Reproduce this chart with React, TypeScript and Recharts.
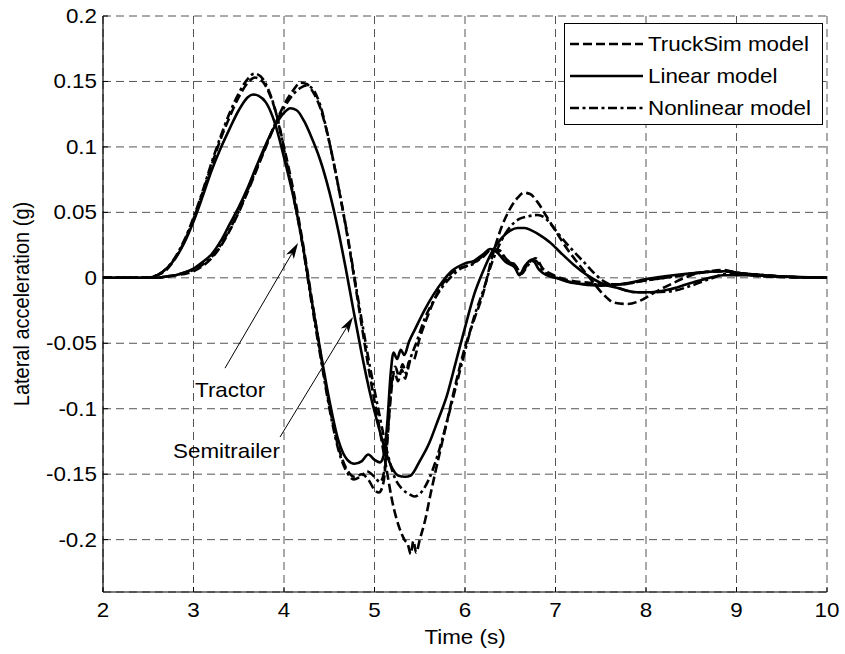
import React from 'react';
import {
  LineChart,
  Line,
  XAxis,
  YAxis,
  CartesianGrid,
  Legend,
  ReferenceLine,
  ReferenceDot,
} from 'recharts';

// Axis ticks
const timeTicks = [2, 3, 4, 5, 6, 7, 8, 9, 10];
const accelTicks = [-0.2, -0.15, -0.1, -0.05, 0, 0.05, 0.1, 0.15, 0.2];
const accelTickLabels = ['-0.2', '-0.15', '-0.1', '-0.05', '0', '0.05', '0.1', '0.15', '0.2'];

// Lateral acceleration (g) vs time (s), as [t, a] pairs
const truckSimTractor: [number, number][] = [
  [2.0, 0], [2.5, 0], [2.6, 0.002], [2.7, 0.006], [2.8, 0.015], [2.9, 0.028], [3.0, 0.045], [3.1, 0.065],
  [3.2, 0.086], [3.3, 0.106], [3.4, 0.123], [3.5, 0.138], [3.6, 0.149], [3.68, 0.153], [3.75, 0.151],
  [3.83, 0.142], [3.92, 0.124], [4.0, 0.1], [4.1, 0.068], [4.2, 0.03], [4.3, -0.013], [4.4, -0.056],
  [4.5, -0.097], [4.6, -0.129], [4.7, -0.147], [4.78, -0.152], [4.86, -0.15], [4.94, -0.155], [5.0, -0.162],
  [5.05, -0.164], [5.1, -0.156], [5.14, -0.126], [5.18, -0.09], [5.22, -0.072], [5.26, -0.079], [5.3, -0.07],
  [5.34, -0.077], [5.38, -0.064], [5.43, -0.063], [5.5, -0.046], [5.6, -0.027], [5.7, -0.011], [5.8, 0],
  [5.9, 0.006], [6.05, 0.01], [6.2, 0.016], [6.3, 0.022], [6.38, 0.021], [6.46, 0.014], [6.55, 0.01],
  [6.62, 0.004], [6.7, 0.011], [6.78, 0.015], [6.86, 0.007], [6.95, 0.003], [7.1, -0.001], [7.4, -0.004],
  [7.7, -0.005], [8.0, -0.002], [8.3, 0.001], [8.6, 0.004], [8.85, 0.005], [9.1, 0.003], [9.5, 0.001], [10, 0],
];

const linearTractor: [number, number][] = [
  [2.0, 0], [2.5, 0], [2.6, 0.002], [2.7, 0.007], [2.8, 0.015], [2.9, 0.027], [3.0, 0.043], [3.1, 0.062],
  [3.2, 0.082], [3.3, 0.099], [3.4, 0.114], [3.5, 0.128], [3.6, 0.138], [3.66, 0.14], [3.72, 0.139],
  [3.8, 0.134], [3.9, 0.118], [4.0, 0.092], [4.1, 0.063], [4.2, 0.028], [4.3, -0.015], [4.4, -0.055],
  [4.5, -0.093], [4.6, -0.124], [4.7, -0.139], [4.78, -0.142], [4.86, -0.14], [4.93, -0.135], [5.0, -0.139],
  [5.06, -0.141], [5.1, -0.136], [5.14, -0.112], [5.18, -0.072], [5.21, -0.057], [5.25, -0.062],
  [5.29, -0.055], [5.33, -0.059], [5.38, -0.049], [5.45, -0.039], [5.55, -0.025], [5.65, -0.013],
  [5.75, -0.003], [5.85, 0.005], [6.0, 0.011], [6.1, 0.013], [6.2, 0.018], [6.28, 0.022], [6.36, 0.019],
  [6.45, 0.012], [6.55, 0.008], [6.6, 0.002], [6.66, 0.009], [6.74, 0.014], [6.82, 0.006], [6.9, 0.002],
  [7.0, 0], [7.2, -0.004], [7.5, -0.006], [7.8, -0.004], [8.0, -0.001], [8.3, 0.002], [8.6, 0.004],
  [8.85, 0.005], [9.1, 0.003], [9.5, 0.001], [10, 0],
];

const nonlinearTractor: [number, number][] = [
  [2.0, 0], [2.5, 0], [2.6, 0.002], [2.7, 0.007], [2.8, 0.016], [2.9, 0.029], [3.0, 0.046], [3.1, 0.066],
  [3.2, 0.088], [3.3, 0.108], [3.4, 0.126], [3.5, 0.141], [3.6, 0.152], [3.67, 0.156], [3.74, 0.154],
  [3.82, 0.145], [3.9, 0.129], [4.0, 0.098], [4.1, 0.064], [4.2, 0.027], [4.3, -0.017], [4.4, -0.059],
  [4.5, -0.099], [4.6, -0.131], [4.7, -0.149], [4.77, -0.154], [4.84, -0.152], [4.92, -0.148], [5.0, -0.152],
  [5.06, -0.156], [5.11, -0.147], [5.15, -0.115], [5.19, -0.08], [5.23, -0.068], [5.27, -0.075],
  [5.31, -0.066], [5.35, -0.073], [5.4, -0.061], [5.46, -0.05], [5.55, -0.032], [5.65, -0.018],
  [5.75, -0.007], [5.85, 0.001], [5.95, 0.007], [6.1, 0.011], [6.2, 0.017], [6.3, 0.021], [6.38, 0.02],
  [6.46, 0.013], [6.55, 0.01], [6.62, 0.003], [6.7, 0.01], [6.78, 0.013], [6.86, 0.005], [6.95, 0.002],
  [7.1, -0.002], [7.4, -0.005], [7.7, -0.005], [8.0, -0.002], [8.3, 0.001], [8.6, 0.004], [8.85, 0.005],
  [9.1, 0.003], [9.5, 0.001], [10, 0],
];

const truckSimSemitrailer: [number, number][] = [
  [2.0, 0], [2.6, 0], [2.7, 0.001], [2.8, 0.002], [2.9, 0.003], [3.0, 0.005], [3.1, 0.009], [3.2, 0.015],
  [3.3, 0.024], [3.4, 0.036], [3.5, 0.05], [3.6, 0.066], [3.7, 0.083], [3.8, 0.1], [3.9, 0.117], [4.0, 0.132],
  [4.1, 0.143], [4.18, 0.149], [4.25, 0.148], [4.32, 0.142], [4.4, 0.13], [4.5, 0.104], [4.6, 0.07],
  [4.7, 0.032], [4.78, -0.002], [4.86, -0.037], [4.95, -0.075], [5.05, -0.113], [5.13, -0.145], [5.2, -0.172],
  [5.27, -0.19], [5.33, -0.2], [5.37, -0.204], [5.4, -0.211], [5.43, -0.201], [5.46, -0.21], [5.5, -0.2],
  [5.56, -0.185], [5.62, -0.165], [5.7, -0.14], [5.8, -0.11], [5.9, -0.08], [6.0, -0.053], [6.1, -0.032],
  [6.2, -0.012], [6.3, 0.016], [6.4, 0.038], [6.5, 0.053], [6.58, 0.061], [6.65, 0.065], [6.72, 0.064],
  [6.8, 0.058], [6.9, 0.047], [7.0, 0.036], [7.12, 0.023], [7.25, 0.011], [7.4, -0.002], [7.52, -0.012],
  [7.65, -0.019], [7.8, -0.02], [7.95, -0.017], [8.1, -0.011], [8.3, -0.004], [8.5, 0.002], [8.7, 0.005],
  [8.85, 0.006], [9.0, 0.004], [9.3, 0.001], [10, 0],
];

const linearSemitrailer: [number, number][] = [
  [2.0, 0], [2.6, 0], [2.7, 0.001], [2.8, 0.002], [2.9, 0.004], [3.0, 0.007], [3.1, 0.012], [3.2, 0.018],
  [3.3, 0.028], [3.4, 0.041], [3.5, 0.054], [3.6, 0.069], [3.7, 0.086], [3.8, 0.102], [3.9, 0.116],
  [4.0, 0.126], [4.07, 0.1295], [4.14, 0.128], [4.22, 0.12], [4.3, 0.108], [4.4, 0.09], [4.5, 0.066],
  [4.6, 0.036], [4.68, 0.008], [4.76, -0.022], [4.85, -0.055], [4.95, -0.088], [5.05, -0.115], [5.12, -0.132],
  [5.2, -0.146], [5.26, -0.151], [5.34, -0.152], [5.4, -0.151], [5.5, -0.14], [5.6, -0.127], [5.7, -0.109],
  [5.8, -0.09], [5.9, -0.064], [6.0, -0.038], [6.1, -0.013], [6.2, 0.005], [6.3, 0.02], [6.4, 0.03],
  [6.5, 0.036], [6.58, 0.038], [6.66, 0.038], [6.74, 0.036], [6.84, 0.032], [6.94, 0.027], [7.06, 0.019],
  [7.2, 0.01], [7.35, 0.002], [7.5, -0.004], [7.7, -0.008], [7.9, -0.011], [8.05, -0.011], [8.25, -0.009],
  [8.45, -0.005], [8.65, -0.001], [8.85, 0.002], [9.1, 0.002], [9.5, 0.001], [10, 0],
];

const nonlinearSemitrailer: [number, number][] = [
  [2.0, 0], [2.6, 0], [2.7, 0.001], [2.8, 0.002], [2.9, 0.004], [3.0, 0.006], [3.1, 0.01], [3.2, 0.016],
  [3.3, 0.025], [3.4, 0.037], [3.5, 0.051], [3.6, 0.067], [3.7, 0.084], [3.8, 0.101], [3.9, 0.117],
  [4.0, 0.13], [4.1, 0.14], [4.18, 0.145], [4.25, 0.147], [4.32, 0.144], [4.4, 0.132], [4.5, 0.104],
  [4.6, 0.07], [4.7, 0.033], [4.78, 0.0], [4.86, -0.033], [4.95, -0.068], [5.05, -0.103], [5.14, -0.133],
  [5.22, -0.152], [5.3, -0.161], [5.38, -0.165], [5.44, -0.167], [5.5, -0.165], [5.6, -0.154], [5.7, -0.135],
  [5.8, -0.11], [5.9, -0.083], [6.0, -0.056], [6.1, -0.03], [6.2, -0.01], [6.3, 0.012], [6.4, 0.028],
  [6.5, 0.039], [6.6, 0.045], [6.7, 0.047], [6.8, 0.048], [6.88, 0.046], [6.96, 0.04], [7.05, 0.032],
  [7.15, 0.024], [7.3, 0.013], [7.5, -0.001], [7.7, -0.008], [7.9, -0.011], [8.1, -0.011], [8.3, -0.01],
  [8.5, -0.006], [8.7, -0.001], [8.9, 0.003], [9.1, 0.003], [9.5, 0.001], [10, 0],
];

// Legend entries and their line styles
const models = [
  { name: 'TruckSim model', dash: '9 4' },
  { name: 'Linear model', dash: undefined as string | undefined },
  { name: 'Nonlinear model', dash: '9 3.5 3 3.5' },
];

const curves = [
  { key: 'ts-tractor', points: truckSimTractor, dash: models[0].dash },
  { key: 'ts-semi', points: truckSimSemitrailer, dash: models[0].dash },
  { key: 'nl-tractor', points: nonlinearTractor, dash: models[2].dash },
  { key: 'nl-semi', points: nonlinearSemitrailer, dash: models[2].dash },
  { key: 'lin-tractor', points: linearTractor, dash: models[1].dash },
  { key: 'lin-semi', points: linearSemitrailer, dash: models[1].dash },
];

// Arrow callouts: label position, arrow tail and arrow tip in data units
const callouts = [
  { label: 'Tractor', anchor: 'start', at: [3.017, -0.0911], tail: [3.348, -0.069], tip: [4.155, 0.0266] },
  { label: 'Semitrailer', anchor: 'end', at: [3.956, -0.1377], tail: [3.956, -0.1216], tip: [4.762, -0.03] },
];

const FONT = '"Liberation Sans", Arial, Helvetica, sans-serif';
const FONT_SIZE = 20;
const STRETCH = 1.12;

const toRows = (pts: [number, number][]) => pts.map(([t, a]) => ({ t, a }));

const StretchText = ({ x, y, anchor = 'start', baseline = 'alphabetic', rotate = 0, children }: any) => (
  <g transform={`translate(${x},${y}) scale(${STRETCH},1)${rotate ? ` rotate(${rotate})` : ''}`}>
    <text
      x={0}
      y={0}
      textAnchor={anchor}
      dominantBaseline={baseline}
      fontFamily={FONT}
      fontSize={FONT_SIZE}
      fill="#000"
    >
      {children}
    </text>
  </g>
);

const TICK_LEN = 5;

const XTick = ({ x, y, payload }: any) => (
  <g>
    <line x1={x} x2={x} y1={y} y2={y - TICK_LEN} stroke="#000" strokeWidth={1} />
    <StretchText x={x} y={y + 25} anchor="middle">{String(payload.value)}</StretchText>
  </g>
);

const YTick = ({ x, y, payload }: any) => {
  const i = accelTicks.findIndex((v) => Math.abs(v - payload.value) < 1e-9);
  const axisX = x + 6;
  return (
    <g>
      <line x1={axisX} x2={axisX + TICK_LEN} y1={y} y2={y} stroke="#000" strokeWidth={1} />
      <StretchText x={x} y={y + 7} anchor="end">{i >= 0 ? accelTickLabels[i] : String(payload.value)}</StretchText>
    </g>
  );
};

const TopTick = ({ x, y }: any) => (
  <line x1={x} x2={x} y1={y} y2={y + TICK_LEN} stroke="#000" strokeWidth={1} />
);

const RightTick = ({ x, y }: any) => (
  <line x1={x} x2={x - TICK_LEN} y1={y} y2={y} stroke="#000" strokeWidth={1} />
);

const XTitle = ({ viewBox }: any) => (
  <StretchText x={viewBox.x + viewBox.width / 2} y={viewBox.y + 52} anchor="middle">
    Time (s)
  </StretchText>
);

const YTitle = ({ viewBox }: any) => (
  <StretchText x={viewBox.x + 21} y={viewBox.y + viewBox.height / 2} anchor="middle" baseline="central" rotate={-90}>
    Lateral acceleration (g)
  </StretchText>
);

const ArrowShape = (p: any) => {
  const { x1, y1, x2, y2 } = p;
  const dx = x2 - x1;
  const dy = y2 - y1;
  const len = Math.hypot(dx, dy) || 1;
  const ux = dx / len;
  const uy = dy / len;
  const headLen = 16;
  const headHalf = 4.5;
  const bx = x2 - ux * headLen;
  const by = y2 - uy * headLen;
  const nx = -uy;
  const ny = ux;
  return (
    <g>
      <line x1={x1} y1={y1} x2={bx + ux * 4} y2={by + uy * 4} stroke="#000" strokeWidth={1} />
      <polygon
        points={`${x2},${y2} ${bx + nx * headHalf},${by + ny * headHalf} ${bx + ux * 4},${by + uy * 4} ${bx - nx * headHalf},${by - ny * headHalf}`}
        fill="#000"
      />
    </g>
  );
};

const LegendBox = () => (
  <div style={{ width: 259, height: 102, border: '1px solid #000', background: '#fff', boxSizing: 'border-box' }}>
    <svg width={257} height={100} style={{ display: 'block' }}>
      {models.map((m, i) => {
        const cy = 20 + i * 32;
        return (
          <g key={m.name}>
            <line x1={5} x2={78} y1={cy} y2={cy} stroke="#000" strokeWidth={2.6} strokeDasharray={m.dash} />
            <StretchText x={83} y={cy + 7}>{m.name}</StretchText>
          </g>
        );
      })}
    </svg>
  </div>
);

const App = () => (
  <div style={{ position: 'absolute', left: 0, top: 0, width: 845, height: 654, background: '#fff' }}>
    <LineChart width={845} height={654} margin={{ top: 16, right: 18, bottom: 0, left: 0 }}>
      <CartesianGrid stroke="#555" strokeDasharray="8 5" strokeWidth={1} />
      <XAxis
        dataKey="t"
        type="number"
        domain={[2, 10]}
        ticks={timeTicks}
        interval={0}
        allowDataOverflow
        height={62}
        tickSize={0}
        tickMargin={0}
        tickLine={false}
        axisLine={{ stroke: '#000', strokeWidth: 1.2 }}
        tick={<XTick />}
        label={{ content: XTitle }}
      />
      <XAxis
        xAxisId="top"
        orientation="top"
        dataKey="t"
        type="number"
        domain={[2, 10]}
        ticks={timeTicks}
        interval={0}
        allowDataOverflow
        height={0}
        tickSize={0}
        tickMargin={0}
        tickLine={false}
        axisLine={{ stroke: '#000', strokeWidth: 1.2 }}
        tick={<TopTick />}
      />
      <YAxis
        type="number"
        domain={[-0.24, 0.2]}
        ticks={accelTicks}
        interval={0}
        allowDataOverflow
        width={103}
        tickSize={0}
        tickMargin={6}
        tickLine={false}
        axisLine={{ stroke: '#000', strokeWidth: 1.2 }}
        tick={<YTick />}
        label={{ content: YTitle }}
      />
      <YAxis
        yAxisId="right"
        orientation="right"
        type="number"
        domain={[-0.24, 0.2]}
        ticks={accelTicks}
        interval={0}
        allowDataOverflow
        width={0}
        tickSize={0}
        tickMargin={0}
        tickLine={false}
        axisLine={{ stroke: '#000', strokeWidth: 1.2 }}
        tick={<RightTick />}
      />
      {curves.map((c) => (
        <Line
          key={c.key}
          data={toRows(c.points)}
          dataKey="a"
          type="monotone"
          stroke="#000"
          strokeWidth={2.6}
          strokeDasharray={c.dash}
          dot={false}
          activeDot={false}
          isAnimationActive={false}
        />
      ))}
      {callouts.map((c) => (
        <ReferenceLine
          key={`arrow-${c.label}`}
          segment={[{ x: c.tail[0], y: c.tail[1] }, { x: c.tip[0], y: c.tip[1] }]}
          shape={ArrowShape}
          ifOverflow="visible"
        />
      ))}
      {callouts.map((c) => (
        <ReferenceDot
          key={`label-${c.label}`}
          x={c.at[0]}
          y={c.at[1]}
          r={0}
          ifOverflow="visible"
          shape={(p: any) => (
            <StretchText x={p.cx} y={p.cy} anchor={c.anchor}>{c.label}</StretchText>
          )}
        />
      ))}
      <Legend
        layout="vertical"
        verticalAlign="middle"
        align="center"
        wrapperStyle={{ left: 564, top: 23, width: 259, height: 102, right: 'auto', bottom: 'auto' }}
        content={<LegendBox />}
      />
    </LineChart>
  </div>
);

export default App;
